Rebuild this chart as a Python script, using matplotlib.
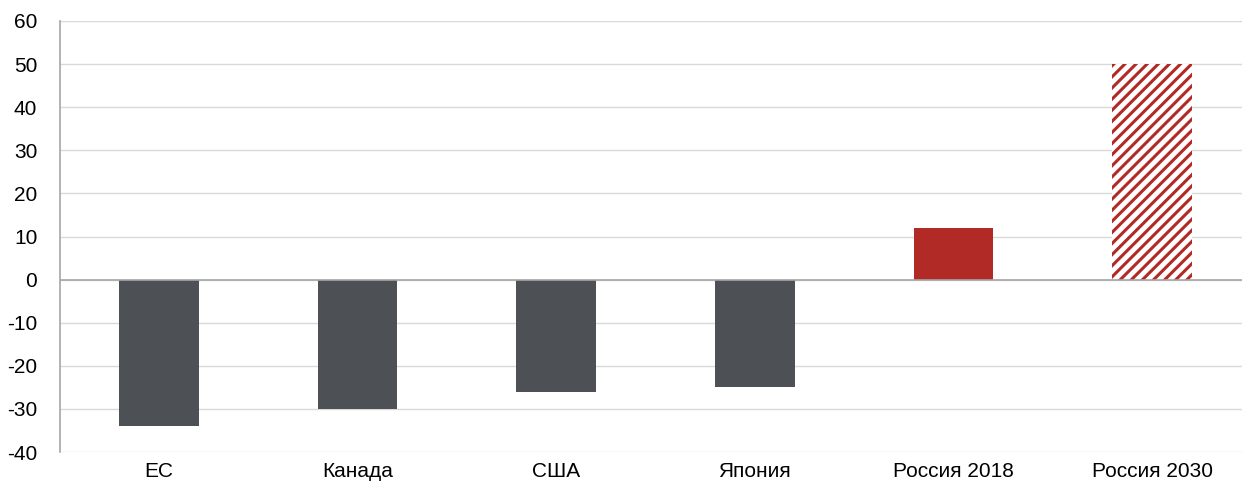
import matplotlib
matplotlib.use('Agg')
import matplotlib.pyplot as plt
import numpy as np

categories = ['ЕС', 'Канада', 'США', 'Япония', 'Россия 2018', 'Россия 2030']
values = [-34, -30, -26, -25, 12, 50]
y_ticks = [-40, -30, -20, -10, 0, 10, 20, 30, 40, 50, 60]

GRAY = '#4d5155'
RED = '#b22a25'

plt.rcParams['font.family'] = ['Liberation Sans', 'DejaVu Sans']
plt.rcParams['axes.unicode_minus'] = False
plt.rcParams['hatch.linewidth'] = 2.2
plt.rcParams['hatch.color'] = RED

fig = plt.figure(figsize=(12.42, 4.88), dpi=100)
ax = fig.add_axes([59.5 / 1242, 1 - 452 / 488, 1192 / 1242, (452 - 21) / 488])

x = np.arange(len(categories))
colors = [GRAY, GRAY, GRAY, GRAY, RED, 'white']
bars = ax.bar(x, values, width=0.4, color=colors, zorder=3, linewidth=0)
# forecast bar drawn with diagonal stripes
bars[-1].set_hatch('///')
bars[-1].set_edgecolor(RED)

ax.set_xlim(-0.5, len(categories) - 0.5)
ax.set_ylim(-40, 60)
ax.set_yticks(y_ticks)
ax.set_xticks(x)
ax.set_xticklabels(categories, fontsize=15)
ax.tick_params(axis='y', labelsize=15, length=0, pad=16)
ax.tick_params(axis='x', length=0, pad=7)

ax.grid(axis='y', color='#d9d9d9', linewidth=1, zorder=0)
ax.axhline(0, color='#a6a6a6', linewidth=1.2, zorder=4)
for side in ['top', 'right', 'bottom']:
    ax.spines[side].set_visible(False)
ax.spines['left'].set_color('#a6a6a6')
ax.spines['left'].set_linewidth(1.2)

fig.savefig('out.png', dpi=100)
